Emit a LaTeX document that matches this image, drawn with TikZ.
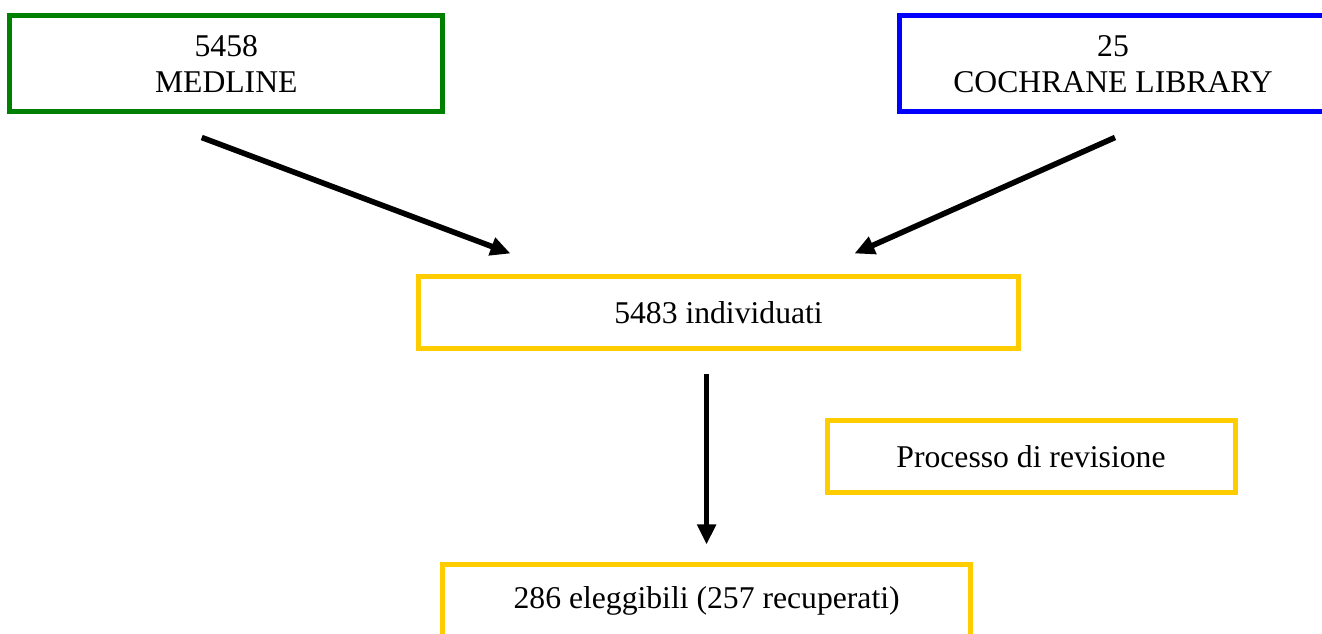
\documentclass[tikz,border=0pt]{standalone}
\usepackage{fontspec}
\setmainfont{Liberation Serif}
\usetikzlibrary{arrows.meta,calc}
\definecolor{boxgreen}{RGB}{0,128,0}
\definecolor{boxblue}{RGB}{0,0,255}
\definecolor{boxgold}{RGB}{255,204,0}
\begin{document}
\begin{tikzpicture}[x=0.75pt,y=-0.75pt,
  flowbox/.style={draw, line width=3.75pt, rectangle, inner sep=0pt, align=center,
    font=\fontsize{23.75pt}{26.8pt}\selectfont},
  flowarrow/.style={line width=4.2pt, -{Triangle[length=15pt,width=13.5pt]}}]
\useasboundingbox (0,0) rectangle (1322,634);
\node[flowbox, draw=boxgreen, minimum width=324.4pt, minimum height=72pt] (medline) at (226.25,64) {5458\\MEDLINE};
\node[flowbox, draw=boxblue, minimum width=321pt, minimum height=72pt] (cochrane) at (1113,64) {25\\COCHRANE LIBRARY};
\node[flowbox, draw=boxgold, minimum width=450pt, minimum height=54pt] (indiv) at (718.5,312.5) {5483 individuati};
\node[flowbox, draw=boxgold, minimum width=306pt, minimum height=54pt] (proc) at (1031,457) {Processo di revisione};
\node[flowbox, draw=boxgold, minimum width=396pt, minimum height=54pt] (elig) at (706.6,601) {286 eleggibili (257 recuperati)};
\draw[flowarrow] ($(medline.south)+(-24.5,23)$) -- ($(indiv.north west)+(94.5,-20.5)$);
\draw[flowarrow] ($(cochrane.south)+(2,23)$) -- ($(indiv.north east)+(-166.5,-20.5)$);
\draw[flowarrow] ($(elig.north |- indiv.south)+(0,23.5)$) -- ($(elig.north)+(0,-18)$);
\end{tikzpicture}
\end{document}
